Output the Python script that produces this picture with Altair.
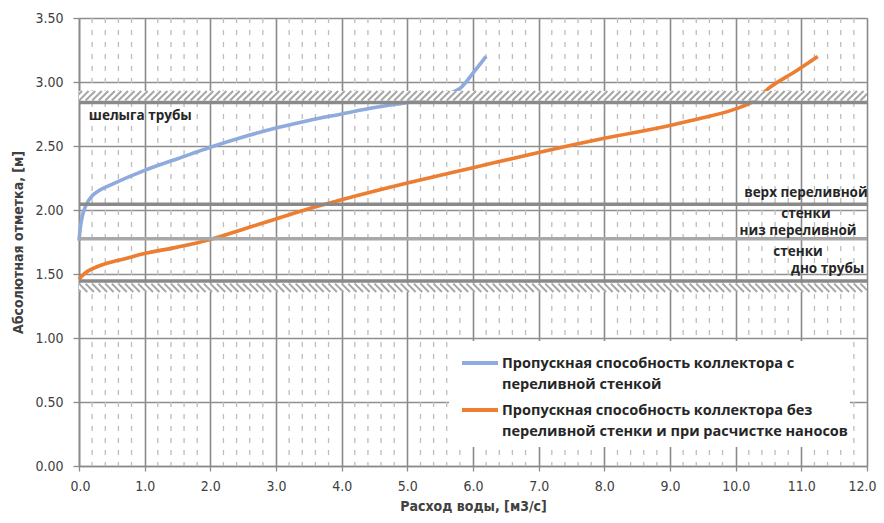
import altair as alt
import pandas as pd
import numpy as np

# ---- data ----
series_names = [
    "Пропускная способность коллектора с\nпереливной стенкой",
    "Пропускная способность коллектора без\nпереливной стенки и при расчистке наносов",
]
series_colors = ["#8FAADC", "#ED7D31"]

blue_x = [0.0, 0.02, 0.05, 0.1, 0.2, 0.3, 0.5, 1.0, 1.5, 2.0, 2.5, 3.0, 3.5, 4.0, 4.5, 5.0, 5.4, 5.8, 6.0, 6.2]
blue_y = [1.76, 1.86, 1.95, 2.03, 2.11, 2.15, 2.20, 2.31, 2.40, 2.49, 2.57, 2.64, 2.70, 2.75, 2.80, 2.84, 2.88, 2.95, 3.07, 3.20]

orange_x = [0.0, 0.1, 0.2, 0.4, 0.7, 1.0, 1.5, 2.0, 2.5, 3.0, 3.5, 4.0, 5.0, 6.0, 7.0, 8.0, 9.0, 9.5, 10.0, 10.3, 10.5, 10.9, 11.25]
orange_y = [1.46, 1.51, 1.54, 1.58, 1.62, 1.66, 1.71, 1.77, 1.85, 1.93, 2.01, 2.08, 2.21, 2.33, 2.45, 2.56, 2.66, 2.72, 2.79, 2.86, 2.95, 3.08, 3.20]

x_ticks = [float(v) for v in range(0, 13)]
y_ticks = [0.0, 0.5, 1.0, 1.5, 2.0, 2.5, 3.0, 3.5]

ref_levels = [2.84, 2.045, 1.775, 1.445]
ref_colors = ["#8a8a8a", "#8a8a8a", "#a8a8a8", "#8a8a8a"]

top_band = [2.855, 2.93]
bottom_band = [1.36, 1.425]

ann_text = ["шелыга трубы", "верх переливной\nстенки", "низ переливной\nстенки", "дно трубы"]
ann_x = [0.15, 11.07, 10.95, 11.40]
ann_y = [2.703, 2.10, 1.805, 1.508]
ann_align = ["left", "center", "center", "center"]

# ---- tables ----
lines_df = pd.concat([
    pd.DataFrame({"x": blue_x, "y": blue_y, "series": series_names[0], "o": range(len(blue_x))}),
    pd.DataFrame({"x": orange_x, "y": orange_y, "series": series_names[1], "o": range(len(orange_x))}),
])

minor_df = pd.DataFrame({"x": [round(i * 0.2, 1) for i in range(61) if i % 5 != 0]})
bands_df = pd.DataFrame({"y": [top_band[0], bottom_band[0]], "y2": [top_band[1], bottom_band[1]]})
refs_df = pd.DataFrame({"y": ref_levels, "c": ref_colors})

step = 0.1
slant_top = (top_band[1] - top_band[0]) * 448 / 3.5 / (788 / 12)
slant_bot = (bottom_band[1] - bottom_band[0]) * 448 / 3.5 / (788 / 12)
hx = np.round(np.arange(-0.3, 12.2, step), 3)
hatch_df = pd.concat([
    pd.DataFrame({"x": hx, "x2": hx + slant_top, "y": top_band[0], "y2": top_band[1]}),
    pd.DataFrame({"x": hx, "x2": hx + slant_bot, "y": bottom_band[1], "y2": bottom_band[0]}),
])

ann_df = pd.DataFrame({"x": ann_x, "y": ann_y, "t": ann_text, "a": ann_align})

# legend (layout in pixels of the plot area)
leg_box = {"x": 370, "x2": 771, "y": 323, "y2": 429}
leg_df = pd.DataFrame({
    "name": series_names,
    "color": series_colors,
    "sy": [345 + 47 * i for i in range(len(series_names))],
    "ty": [350 + 47 * i for i in range(len(series_names))],
})

tick_font = "Liberation Sans Narrow, DejaVu Sans Condensed, sans-serif"
lab_font = "Open Sans, sans-serif"

xs = alt.Scale(domain=[0, 12], nice=False, zero=False)
ys = alt.Scale(domain=[0, 3.5], nice=False, zero=False)

x_axis = alt.Axis(values=x_ticks, format=".1f", title="Расход воды, [м3/с]", grid=True,
                  gridColor="#8a8a8a", gridWidth=1.6, domainColor="#8a8a8a", domainWidth=1.6,
                  tickColor="#8a8a8a", tickSize=5, tickWidth=1.3, labelPadding=8,
                  labelFlush=True, labelFlushOffset=9,
                  labelFont=tick_font, labelFontSize=14, labelColor="#404040",
                  titleFont=tick_font, titleFontSize=14, titleFontWeight="bold", titleColor="#404040",
                  titlePadding=6)
y_axis = alt.Axis(values=y_ticks, format=".2f", title="Абсолютная отметка, [м]", grid=True,
                  gridColor="#8e8e8e", gridWidth=1.6, domainColor="#8a8a8a", domainWidth=1.6,
                  tickColor="#8a8a8a", tickSize=6, tickWidth=1.3, labelPadding=10, labelFlush=False,
                  labelFont=tick_font, labelFontSize=14, labelColor="#404040",
                  titleFont=tick_font, titleFontSize=14, titleFontWeight="bold", titleColor="#404040",
                  titlePadding=9)


def X(field="x"):
    return alt.X(f"{field}:Q", scale=xs, axis=x_axis)


def Y(field="y"):
    return alt.Y(f"{field}:Q", scale=ys, axis=y_axis)


minor = alt.Chart(minor_df).mark_rule(color="#bdbdbd", strokeWidth=1.3, strokeDash=[5, 7]).encode(
    x=X(),
)

lines = alt.Chart(lines_df).mark_line(interpolate="monotone", strokeWidth=3.6).encode(
    x=X(), y=Y(),
    order="o:Q",
    color=alt.Color("series:N", scale=alt.Scale(domain=series_names, range=series_colors), legend=None),
)

bands = alt.Chart(bands_df).mark_rect(color="white").encode(
    x=alt.value(0), x2=alt.value(788),
    y=Y(), y2="y2:Q",
)

hatch = alt.Chart(hatch_df).mark_rule(color="#a6a6a6", strokeWidth=2, clip=True).encode(
    x=X(), x2="x2:Q", y=Y(), y2="y2:Q",
)

refs = alt.Chart(refs_df).mark_rule(strokeWidth=3.6).encode(
    y=Y(),
    color=alt.Color("c:N", scale=None, legend=None),
)


def ann_layer(align):
    return alt.Chart(ann_df[ann_df["a"] == align]).mark_text(
        font=lab_font, fontWeight="bold", fontSize=13.5, color="#262626", align=align,
        baseline="alphabetic", lineBreak="\n", lineHeight=21,
    ).encode(x=X(), y=Y(), text="t:N")


leg_bg = alt.Chart(pd.DataFrame({"k": [0]})).mark_rect(color="white").encode(
    x=alt.value(leg_box["x"]), x2=alt.value(leg_box["x2"]),
    y=alt.value(leg_box["y"]), y2=alt.value(leg_box["y2"]),
)
leg_sym = alt.Chart(leg_df).mark_rule(strokeWidth=4).encode(
    x=alt.value(383), x2=alt.value(419),
    y=alt.Y("sy:Q", scale=None, axis=None),
    color=alt.Color("color:N", scale=None, legend=None),
)
leg_txt = alt.Chart(leg_df).mark_text(
    font=lab_font, fontWeight="bold", fontSize=14.5, color="#262626", align="left",
    baseline="alphabetic", lineBreak="\n", lineHeight=21,
).encode(
    x=alt.value(423),
    y=alt.Y("ty:Q", scale=None, axis=None),
    text="name:N",
)

chart = alt.layer(minor, lines, bands, hatch, refs,
                  ann_layer("left"), ann_layer("center"), leg_bg, leg_sym, leg_txt).properties(
    width=788, height=448,
    autosize=alt.AutoSizeParams(type="none"),
    padding={"left": 71, "top": 10, "right": 9, "bottom": 49},
).resolve_scale(color="independent").configure_view(stroke=None).configure(background="white")

chart.save("out.html", embed_options={"renderer": "svg", "actions": False})
